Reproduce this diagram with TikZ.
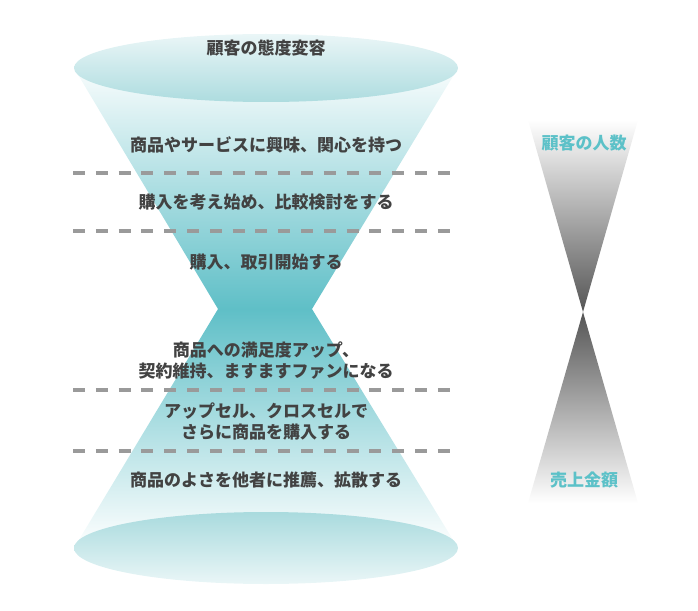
\documentclass[tikz,border=0pt]{standalone}
\usepackage{fontspec}
\setmainfont{Noto Sans CJK JP}
\begin{document}
\begin{tikzpicture}[x=1bp,y=-1bp,
  lbl/.style={font=\fontsize{17bp}{21bp}\selectfont\bfseries, text=txtgray, align=center, inner sep=0pt},
  side/.style={font=\fontsize{17bp}{21bp}\selectfont\bfseries, text=teallbl, inner sep=0pt},
  sep/.style={draw=dashgray, line width=3.5bp, dash pattern=on 12bp off 10.8bp},
]
\definecolor{teal1}{HTML}{5FBFC7}
\definecolor{teallbl}{HTML}{5CC1C8}
\definecolor{txtgray}{HTML}{424242}
\definecolor{dashgray}{HTML}{9A9A9A}
\definecolor{elltop}{HTML}{EAF6F7}
\definecolor{ellbot}{HTML}{ADDCDF}
\definecolor{dark}{HTML}{555555}
\useasboundingbox (0,0) rectangle (698,611);
% upper funnel
\shade[top color=teal1!4, bottom color=teal1] (74,68) -- (458,68) -- (312,309) -- (218,309) -- cycle;
% lower funnel
\shade[top color=teal1, bottom color=white] (218,309) -- (312,309) -- (458,548) -- (74,548) -- cycle;
% ellipses
\shade[top color=elltop, bottom color=ellbot] (266,68) ellipse [x radius=192, y radius=34];
\shade[top color=ellbot!95!teal1, bottom color=elltop] (266,548) ellipse [x radius=192, y radius=36];
% separators
\coordinate (s1a) at (73,173); \coordinate (s1b) at (452,173);
\coordinate (s2a) at (73,231); \coordinate (s2b) at (452,231);
\coordinate (s3a) at (73,390); \coordinate (s3b) at (452,390);
\coordinate (s4a) at (73,451); \coordinate (s4b) at (452,451);
\draw[sep] (s1a) -- (s1b);
\draw[sep] (s2a) -- (s2b);
\draw[sep] (s3a) -- (s3b);
\draw[sep] (s4a) -- (s4b);
% texts
\node[lbl] (t0) at (266,48) {顧客の態度変容};
\node[lbl] (t1) at (266,145) {商品やサービスに興味、関心を持つ};
\node[lbl] (t2) at (266,202) {購入を考え始め、比較検討をする};
\node[lbl] (t3) at (266,262) {購入、取引開始する};
\node[lbl] (t4) at (266,361) {商品への満足度アップ、\\契約維持、ますますファンになる};
\node[lbl] (t5) at (266,421) {アップセル、クロスセルで\\さらに商品を購入する};
\node[lbl] (t6) at (266,480) {商品のよさを他者に推薦、拡散する};
% right hourglass
\shade[top color=white, bottom color=dark] (528,120) -- (638,120) -- (583,312) -- cycle;
\shade[top color=dark, bottom color=white] (583,312) -- (638,503) -- (528,503) -- cycle;
\node[side] (r1) at (584,143) {顧客の人数};
\node[side] (r2) at (584,480) {売上金額};
\end{tikzpicture}
\end{document}
